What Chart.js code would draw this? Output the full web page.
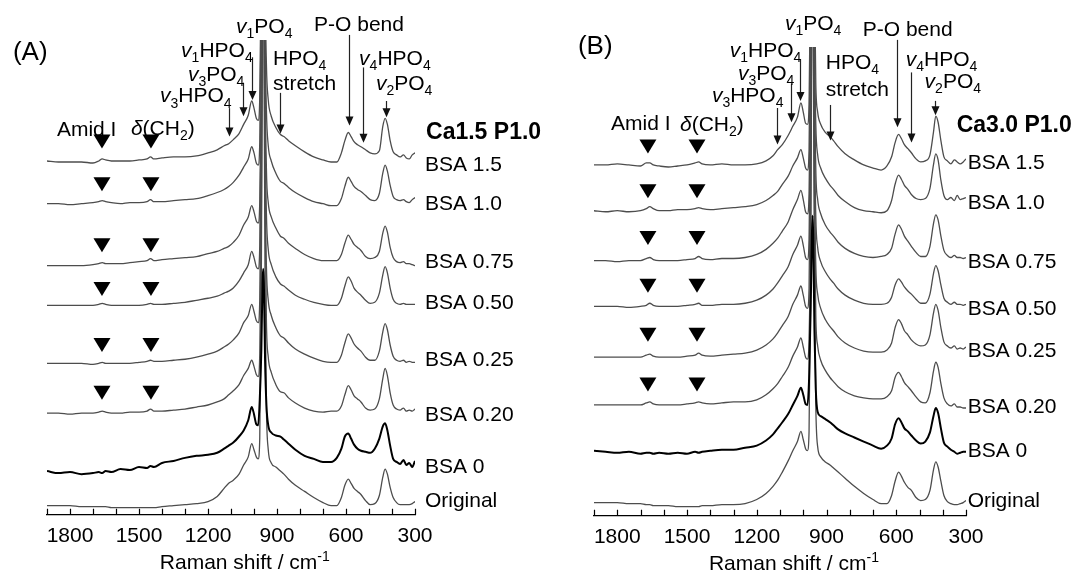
<!DOCTYPE html>
<html lang="en">
<head>
<meta charset="UTF-8">
<title>Raman spectra - Ca1.5 P1.0 / Ca3.0 P1.0</title>
<style>
    body { margin: 0; background: #fff; }
    #wrap { position: relative; width: 1083px; height: 570px; }
    #chartA { position: absolute; left: 0; top: 0; }
    #chartB { position: absolute; left: 548px; top: 0; }
</style>
</head>
<body>
<div id="wrap">
    <canvas id="chartA" width="548" height="570"></canvas>
    <canvas id="chartB" width="535" height="570"></canvas>
</div>

<script src="https://cdn.jsdelivr.net/npm/chart.js"></script>
<script>
const FONT = "'Liberation Sans', Arial, Helvetica, sans-serif";

// Raman shift (cm-1), shared by every spectrum
const wavenumbers = [1900,1850,1800,1750,1700,1675,1660,1645,1620,
    1580,1540,1500,1465,1450,1435,1400,1350,1300,1250,
    1200,1160,1130,1110,1090,1065,1045,1025,
    1010,1000,990,982,975,968,963,960,957,952,946,938,
    925,905,885,870,850,820,780,740,700,665,640,
    620,605,590,578,565,550,535,515,495,475,
    455,440,430,420,408,395,380,365,350,338,325,312,300];

const traceNames = ['BSA 1.5', 'BSA 1.0', 'BSA 0.75', 'BSA 0.50', 'BSA 0.25', 'BSA 0.20', 'BSA 0', 'Original'];
const tickLabels = [1800, 1500, 1200, 900, 600, 300];

// (A) Ca1.5 P1.0 - intensity above each trace's own baseline
const a_bsa15 = [0,-1,-1,-1,-2,0,2,1,0, 0,0,1,2,4,2,3,4,4,5, 8,11,15,17,21,27,36,45,
    59,52,42,40,62,200,420,520,420,190,95,60, 44,33,26,24,20,15,9,4,1,-1,-1,
    8,20,28,24,19,16,14,11,8,7, 10,34,42,36,20,9,6,4,6,3,2,6,8];
const a_bsa10 = [0,0,-1,0,1,2,3,2,1, 0,1,1,2,4,2,2,3,4,5, 8,11,14,17,21,28,36,44,
    56,50,40,38,60,210,440,540,400,180,92,57, 42,30,22,20,16,11,6,2,0,-2,-2,
    5,17,26,22,17,14,12,8,4,3, 10,30,38,32,18,7,4,3,4,2,1,4,6];
const a_bsa075 = [0,0,0,0,1,2,3,2,2, 2,3,4,5,7,5,6,7,8,9, 12,14,17,19,23,30,40,48,
    59,53,44,42,62,190,400,520,440,200,95,62, 48,37,29,27,22,17,11,7,5,5,5,
    11,22,30,26,21,18,15,9,7,8, 14,32,39,33,18,8,4,3,4,2,2,1,0];
const a_bsa050 = [0,0,0,0,0,1,2,1,0, 0,0,0,1,2,1,1,2,3,5, 7,9,12,14,17,24,32,40,
    53,47,38,36,58,200,430,540,430,190,90,55, 40,28,21,19,15,10,6,3,1,0,0,
    7,19,28,24,17,13,10,5,2,3, 12,30,38,32,17,6,2,1,2,1,1,1,1];
const a_bsa025 = [0,0,0,0,-1,0,1,0,0, 0,0,1,2,3,2,2,3,4,6, 9,12,16,19,23,30,40,47,
    58,51,42,40,62,220,450,560,420,190,95,62, 47,35,27,25,20,14,9,5,2,1,1,
    8,20,29,25,19,15,12,6,3,3, 12,31,39,33,18,7,3,2,3,1,2,1,1];
const a_bsa020 = [0,0,-1,0,0,1,2,1,0, 0,1,1,2,4,2,2,3,4,6, 8,11,14,18,22,28,37,44,
    52,46,38,36,58,190,420,560,450,210,90,55, 40,28,21,20,15,10,5,2,1,2,2,
    7,18,27,23,17,14,11,5,3,4, 14,34,44,37,20,8,4,3,5,2,3,2,4];
const a_bsa0 = [0,-2,-1,-3,-2,-1,-2,0,-1, 2,1,4,3,5,4,8,10,13,15, 16,18,22,25,28,34,40,50,
    63,56,46,45,70,120,185,199,185,110,65,45, 38,35,34,31,27,21,15,12,9,9,13,
    22,34,37,32,26,22,20,19,18,22, 32,44,47,40,25,12,9,7,11,6,8,4,10];
const a_orig = [0,0,0,-1,-1,-1,-1,-1,-2, -2,-2,-2,-2,-2,-2,-1,0,1,2, 4,9,17,22,25,31,40,48,
    61,55,48,46,66,230,480,600,480,220,95,55, 42,38,34,31,26,20,14,8,3,0,0,
    8,20,26,22,17,14,11,5,1,2, 10,28,36,31,18,8,3,1,1,1,1,2,4];
const offsetsA = [348, 306, 245, 206, 149, 100, 43, 9];

// (B) Ca3.0 P1.0
const b_bsa15 = [0,0,1,0,-1,2,2,0,-1, -2,-1,0,2,3,1,0,1,0,0, 1,4,9,15,20,29,38,47,
    61,52,41,40,60,200,420,520,420,190,80,52, 40,32,28,24,18,11,5,0,-3,-5,-1,
    8,22,30,26,20,16,12,6,3,4, 10,32,48,42,24,8,4,1,5,3,1,3,6];
const b_bsa10 = [0,-1,0,-1,0,2,4,2,0, 0,1,1,2,3,2,1,2,3,4, 6,10,15,19,26,34,44,52,
    60,52,42,40,60,210,440,540,400,180,85,55, 42,32,25,21,15,9,3,0,-1,-2,0,
    10,26,35,31,25,21,16,12,11,12, 22,45,56,50,30,15,11,13,10,15,11,12,13];
const b_bsa075 = [0,0,-1,0,0,2,3,1,0, 0,0,1,2,4,2,1,2,2,3, 6,11,17,22,29,38,50,60,
    69,60,48,46,66,190,400,520,440,200,90,60, 46,35,28,24,18,12,7,4,3,4,6,
    12,26,35,31,24,19,14,8,4,4, 14,36,45,40,24,10,5,3,5,3,3,2,3];
const b_bsa050 = [0,0,0,-1,0,1,3,1,0, 0,0,1,2,3,1,1,2,2,3, 6,11,17,23,30,39,51,60,
    69,60,48,46,66,200,430,540,430,190,88,58, 44,34,27,23,17,11,6,3,2,2,3,
    9,21,27,24,19,15,12,7,3,3, 12,32,40,35,21,8,4,2,4,2,2,1,2];
const b_bsa025 = [0,0,0,0,0,2,3,1,0, 0,0,1,2,4,2,1,2,3,4, 7,12,18,24,31,40,52,61,
    70,61,50,48,68,220,450,560,420,190,90,62, 48,37,30,26,20,14,9,6,5,5,7,
    14,29,37,33,26,22,17,13,11,12, 22,43,52,46,29,15,11,9,11,8,9,8,10];
const b_bsa020 = [0,0,0,0,0,2,3,1,0, 0,0,1,2,3,2,1,2,3,3, 5,10,16,21,28,37,48,57,
    66,57,47,45,65,190,420,560,450,210,88,58, 44,34,27,23,18,13,9,7,6,6,8,
    14,27,32,28,22,18,14,8,3,2, 12,33,42,37,21,7,1,-1,1,-2,-2,-3,-3];
const b_bsa0 = [0,-1,-2,-1,-3,-2,-2,-3,-2, -3,-2,-3,-1,-2,-1,0,1,1,3, 5,10,16,22,28,36,45,54,
    62,55,46,45,70,140,210,231,210,120,60,38, 34,31,28,25,21,17,13,9,5,2,5,
    12,26,32,28,22,19,15,10,7,9, 18,34,42,37,22,8,4,1,-1,-3,-2,-1,-1];
const b_orig = [0,0,0,-1,-1,-2,-2,-3,-3, -3,-4,-4,-4,-4,-3,-3,-2,-2,-1, 3,9,16,22,30,41,51,60,
    70,62,53,51,70,230,480,600,480,220,95,55, 45,40,37,34,30,24,16,9,3,-1,-1,
    7,21,30,26,20,15,12,5,2,3, 12,32,40,35,21,7,1,-1,-2,-2,-1,0,2];
const offsetsB = [345, 300, 251, 206, 156, 109, 64, 13];

// band assignments, arrows and markers, in (cm-1, intensity) coordinates
const panelNotes = {
    chartA: {
        arrows: [[1109, 400, 372], [1048, 425, 392], [1009, 450, 408], [887, 415, 375],
                 [588, 472, 383], [526, 440, 366], [428, 407, 391]],
        markX: [1661, 1448],
        markTops: [374, 332, 272, 229, 174, 127],
        texts: [
            { s: '(A)', x: 2048, y: 457, size: 26 },
            { s: '*v*_1_PO_4_', x: 1078, y: 481 },
            { s: '*v*_1_HPO_4_', x: 1317, y: 458 },
            { s: '*v*_3_PO_4_', x: 1287, y: 434 },
            { s: '*v*_3_HPO_4_', x: 1409, y: 413 },
            { s: 'HPO_4_', x: 917, y: 450 },
            { s: 'stretch', x: 917, y: 425 },
            { s: 'P-O bend', x: 739, y: 483 },
            { s: '*v*_4_HPO_4_', x: 543, y: 450 },
            { s: '*v*_2_PO_4_', x: 470, y: 425 },
            { s: 'Amid I', x: 1857, y: 380 },
            { s: '*δ*(CH_2_)', x: 1535, y: 381 },
            { s: 'Ca1.5 P1.0', x: 252, y: 378, size: 23, bold: true }
        ],
        labelX: 257,
        labelY: [346, 307, 250, 210, 154, 100, 49, 15]
    },
    chartB: {
        arrows: [[1114, 401, 365], [1053, 425, 387], [1015, 449, 408], [886, 404, 369],
                 [598, 468, 382], [538, 436, 367], [435, 408, 394]],
        markX: [1668, 1457],
        markTops: [370, 326, 280, 233, 185, 136],
        texts: [
            { s: '(B)', x: 1969, y: 463, size: 26 },
            { s: '*v*_1_PO_4_', x: 1079, y: 485 },
            { s: '*v*_1_HPO_4_', x: 1316, y: 459 },
            { s: '*v*_3_PO_4_', x: 1281, y: 436 },
            { s: '*v*_3_HPO_4_', x: 1393, y: 414 },
            { s: 'HPO_4_', x: 903, y: 447 },
            { s: 'stretch', x: 903, y: 420 },
            { s: 'P-O bend', x: 744, y: 479 },
            { s: '*v*_4_HPO_4_', x: 559, y: 450 },
            { s: '*v*_2_PO_4_', x: 478, y: 428 },
            { s: 'Amid I', x: 1827, y: 387 },
            { s: '*δ*(CH_2_)', x: 1530, y: 386 },
            { s: 'Ca3.0 P1.0', x: 340, y: 386, size: 23, bold: true }
        ],
        labelX: 293,
        labelY: [348, 309, 251, 205, 164, 109, 65, 16]
    }
};

// '*' toggles italic, '_' subscript, '^' superscript
function segments(str) {
    const out = [];
    let cur = '', it = false, sub = false, sup = false;
    const push = () => { if (cur) out.push({ t: cur, it, sub, sup }); cur = ''; };
    for (const ch of str) {
        if (ch === '*') { push(); it = !it; }
        else if (ch === '_') { push(); sub = !sub; }
        else if (ch === '^') { push(); sup = !sup; }
        else cur += ch;
    }
    push();
    return out;
}

function drawRich(ctx, str, x, y, size, bold, align) {
    const segs = segments(str).map(s => {
        const fs = (s.sub || s.sup) ? Math.round(size * 0.65) : size;
        const font = (s.it ? 'italic ' : '') + (bold ? 'bold ' : '') + fs + 'px ' + FONT;
        ctx.font = font;
        return { t: s.t, font, w: ctx.measureText(s.t).width,
                 dy: s.sub ? size * 0.24 : (s.sup ? -size * 0.4 : 0) };
    });
    const total = segs.reduce((a, s) => a + s.w, 0);
    let cx = align === 'center' ? x - total / 2 : x;
    const base = y + size * 0.36;
    ctx.fillStyle = '#000';
    ctx.textAlign = 'left';
    ctx.textBaseline = 'alphabetic';
    segs.forEach(s => { ctx.font = s.font; ctx.fillText(s.t, cx, base + s.dy); cx += s.w; });
}

const annotate = {
    id: 'annotate',
    afterDraw(chart) {
        const o = panelNotes[chart.canvas.id];
        const ctx = chart.ctx, area = chart.chartArea;
        const X = v => chart.scales.x.getPixelForValue(v);
        const Y = v => chart.scales.y.getPixelForValue(v);
        ctx.save();

        // inward tick marks every 100 cm-1
        ctx.strokeStyle = '#000';
        ctx.lineWidth = 1.2;
        ctx.beginPath();
        for (let v = 300; v <= 1900; v += 100) {
            const x = Math.round(X(v)) + 0.5;
            ctx.moveTo(x, area.bottom);
            ctx.lineTo(x, area.bottom - 6);
        }
        ctx.stroke();

        // assignment arrows
        ctx.strokeStyle = '#222';
        ctx.fillStyle = '#111';
        o.arrows.forEach(([w, y1, y2]) => {
            const x = Math.round(X(w)) + 0.5, top = Y(y1), tip = Y(y2);
            ctx.beginPath();
            ctx.moveTo(x, top);
            ctx.lineTo(x, tip - 7);
            ctx.stroke();
            ctx.beginPath();
            ctx.moveTo(x - 4, tip - 9);
            ctx.lineTo(x + 4, tip - 9);
            ctx.lineTo(x, tip);
            ctx.closePath();
            ctx.fill();
        });

        // protein band markers
        ctx.fillStyle = '#000';
        o.markTops.forEach(t => {
            o.markX.forEach(w => {
                const x = X(w), y = Y(t);
                ctx.beginPath();
                ctx.moveTo(x - 8.5, y);
                ctx.lineTo(x + 8.5, y);
                ctx.lineTo(x, y + 14);
                ctx.closePath();
                ctx.fill();
            });
        });

        o.texts.forEach(t => drawRich(ctx, t.s, X(t.x), Y(t.y), t.size || 21, t.bold));
        chart.data.datasets.forEach((d, i) => drawRich(ctx, d.label, X(o.labelX), Y(o.labelY[i]), 21));

        // axis title
        drawRich(ctx, 'Raman shift / cm^-1^', X(1040), area.bottom + 47, 21, false, 'center');
        ctx.restore();
    }
};

function makePanel(canvasId, spectra, offsets, pad) {
    const height = 570 - pad.top - pad.axisBottom;
    const datasets = spectra.map((s, i) => ({
        label: traceNames[i],
        data: wavenumbers.map((w, k) => ({ x: w, y: s[k] + offsets[i] })),
        borderColor: i === 6 ? '#000' : '#4d4d4d',
        borderWidth: i === 6 ? 2 : 1.3,
        pointRadius: 0,
        cubicInterpolationMode: 'monotone',
        clip: 0,
        order: i === 6 ? 0 : 1
    }));
    return new Chart(document.getElementById(canvasId), {
        type: 'line',
        data: { datasets },
        options: {
            responsive: false,
            animation: false,
            devicePixelRatio: 1,
            layout: { padding: { left: pad.left, right: pad.right, top: pad.top, bottom: pad.bottom } },
            scales: {
                x: {
                    type: 'linear',
                    reverse: true,
                    min: 300,
                    max: 1900,
                    grid: { display: false, drawTicks: false },
                    border: { display: true, color: '#000', width: 1.3 },
                    ticks: {
                        stepSize: 100,
                        autoSkip: false,
                        maxRotation: 0,
                        padding: 9,
                        color: '#000',
                        font: { family: FONT, size: 21 },
                        callback: v => tickLabels.includes(v) ? String(v) : ''
                    }
                },
                y: { display: false, min: 0, max: height }
            },
            plugins: {
                legend: { display: false },
                tooltip: { enabled: false }
            }
        },
        plugins: [annotate]
    });
}

makePanel('chartA', [a_bsa15, a_bsa10, a_bsa075, a_bsa050, a_bsa025, a_bsa020, a_bsa0, a_orig], offsetsA,
    { left: 47, right: 133, top: 40, bottom: 12, axisBottom: 63 });
makePanel('chartB', [b_bsa15, b_bsa10, b_bsa075, b_bsa050, b_bsa025, b_bsa020, b_bsa0, b_orig], offsetsB,
    { left: 46, right: 117, top: 47, bottom: 11, axisBottom: 62 });
</script>
</body>
</html>
